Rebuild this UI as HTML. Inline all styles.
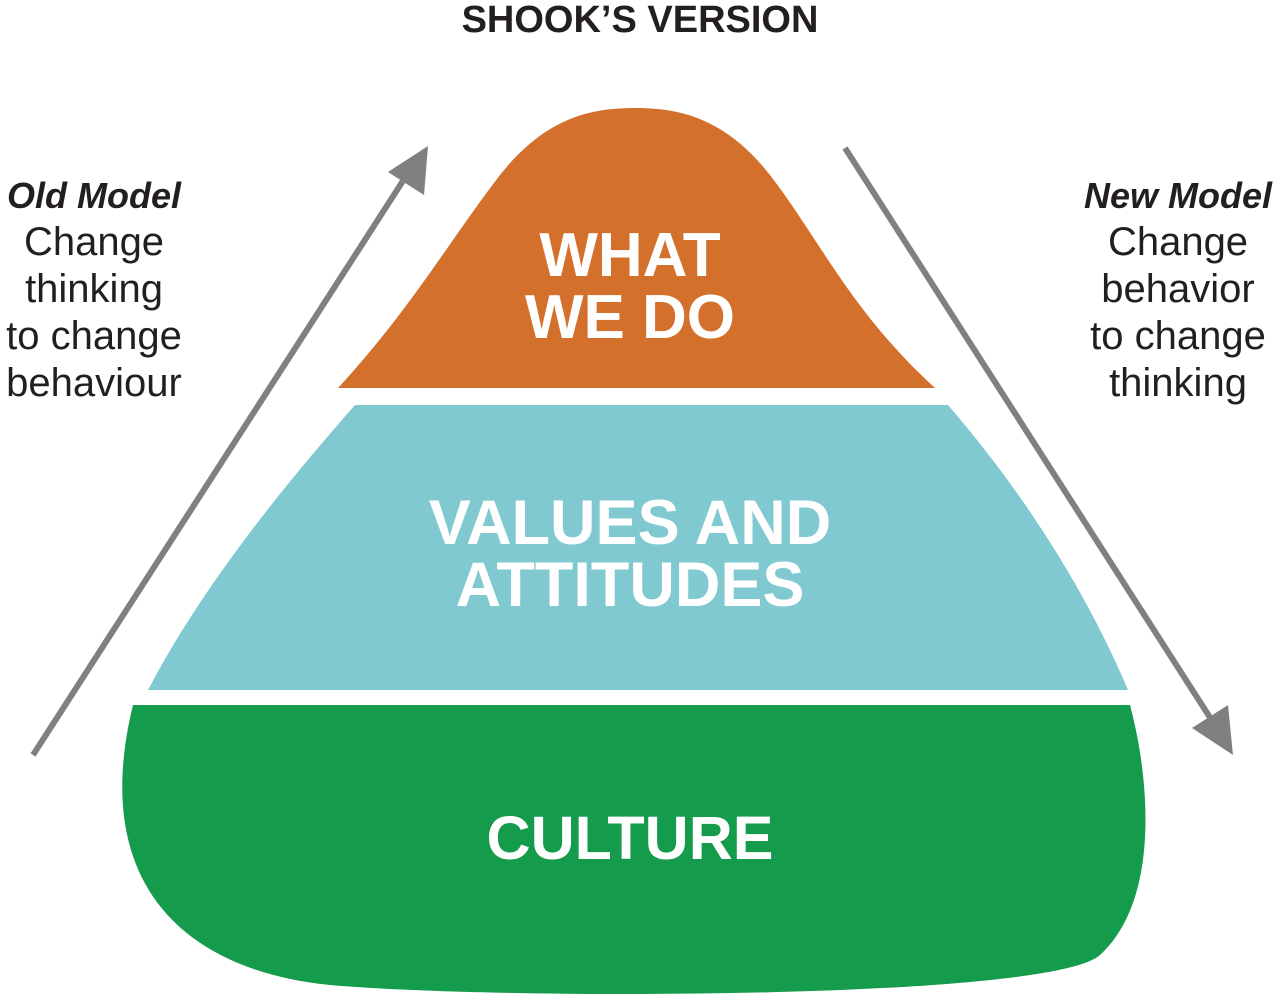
<!DOCTYPE html>
<html><head><style>
html,body{margin:0;padding:0;background:#fff;}
body{width:1280px;height:998px;overflow:hidden;position:relative;font-family:"Liberation Sans",sans-serif;}
.t{position:absolute;text-align:center;color:#231f20;font-size:40px;line-height:47px;white-space:nowrap;}
.t i{font-size:36px;font-weight:bold;}
</style></head><body>
<svg width="1280" height="998" style="position:absolute;left:0;top:0">
<path d="M338,388 C410,310 450,240 500,175 C545,118 590,108 635,108 C680,108 725,118 770,175 C820,240 850,310 935,388 Z" fill="#d3702b"/>
<path d="M355,405 L948,405 C1030,500 1090,600 1128,690 L148,690 C200,590 280,490 355,405 Z" fill="#80c9d1"/>
<path d="M133,705 L1130,705 C1150,780 1160,900 1100,955 C1050,1000 500,1000 330,985 C180,970 90,880 133,705 Z" fill="#149b4b"/>
<line x1="33" y1="755" x2="410" y2="170" stroke="#808080" stroke-width="6"/>
<path d="M428,146 L424,195 L388,172 Z" fill="#808080"/>
<line x1="845" y1="148" x2="1218" y2="730" stroke="#808080" stroke-width="6"/>
<path d="M1233,755 L1192,728 L1228,705 Z" fill="#808080"/>
</svg>
<div class="t" style="left:0;width:1280px;top:-1px;font-weight:bold;font-size:38px;line-height:42px;">SHOOK’S VERSION</div>
<div class="t" style="left:-6px;width:200px;top:172px;"><i>Old Model</i><br>Change<br>thinking<br>to change<br>behaviour</div>
<div class="t" style="left:1068px;width:220px;top:172px;"><i>New Model</i><br>Change<br>behavior<br>to change<br>thinking</div>
<div class="t" style="left:330px;width:600px;top:225px;color:#fff;font-weight:bold;font-size:62px;line-height:62px;">WHAT<br>WE DO</div>
<div class="t" style="left:230px;width:800px;top:492px;color:#fff;font-weight:bold;font-size:63px;line-height:62px;">VALUES AND<br>ATTITUDES</div>
<div class="t" style="left:230px;width:800px;top:806px;color:#fff;font-weight:bold;font-size:61px;line-height:64px;">CULTURE</div>
</body></html>
